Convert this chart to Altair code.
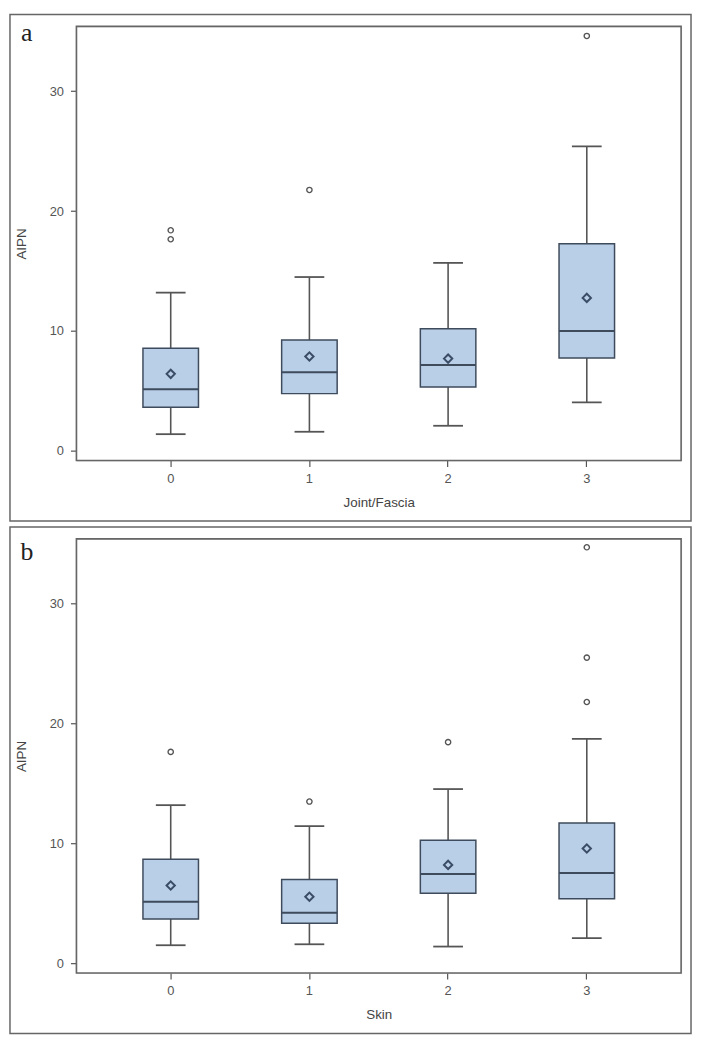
import altair as alt
import pandas as pd

# ---- data ----
cats = ["0", "1", "2", "3"]

a_lo = [1.4, 1.6, 2.1, 4.05]
a_q1 = [3.65, 4.78, 5.33, 7.76]
a_med = [5.14, 6.57, 7.16, 10.0]
a_q3 = [8.57, 9.25, 10.19, 17.27]
a_hi = [13.2, 14.5, 15.68, 25.4]
a_mean = [6.43, 7.87, 7.7, 12.76]
a_out_cat = ["0", "0", "1", "3"]
a_out_val = [18.4, 17.65, 21.76, 34.6]

b_lo = [1.52, 1.6, 1.41, 2.12]
b_q1 = [3.71, 3.36, 5.86, 5.4]
b_med = [5.15, 4.23, 7.46, 7.54]
b_q3 = [8.68, 7.0, 10.28, 11.72]
b_hi = [13.2, 11.45, 14.54, 18.73]
b_mean = [6.5, 5.56, 8.22, 9.58]
b_out_cat = ["0", "1", "2", "3", "3", "3"]
b_out_val = [17.64, 13.5, 18.45, 34.7, 25.5, 21.8]

y_ticks = [0, 10, 20, 30]

W = 610
H = 438
FONT = "Liberation Sans"
BOX_FILL = "#b9cee7"
BOX_STROKE = "#3e4b5c"
GREY = "#555555"


def panel(letter, letter_y, xtitle, lo, q1, med, q3, hi, mean, out_cat, out_val):
    stats = pd.DataFrame({"cat": cats, "lo": lo, "q1": q1, "med": med,
                          "q3": q3, "hi": hi, "mean": mean})
    outs = pd.DataFrame({"cat": out_cat, "val": out_val})
    one = pd.DataFrame({"k": [0]})

    xscale = alt.Scale(type="band", paddingInner=0, paddingOuter=0.18)
    xaxis = alt.Axis(title=xtitle, labelAngle=0, tickSize=6, labelPadding=6,
                     domain=False, grid=False, tickColor=GREY, tickWidth=1.2,
                     labelColor=GREY, labelFont=FONT, labelFontSize=13,
                     titleFont=FONT, titleFontSize=13.5, titleFontWeight="normal",
                     titleColor="#444444", titlePadding=10)
    yscale = alt.Scale(domain=[-0.8, 35.4], nice=False, zero=False)
    yaxis = alt.Axis(title="AIPN", values=y_ticks, tickSize=6, labelPadding=7,
                     domain=False, grid=False, tickColor=GREY, tickWidth=1.2,
                     labelColor=GREY, labelFont=FONT, labelFontSize=13,
                     titleFont=FONT, titleFontSize=13.5, titleFontWeight="normal",
                     titleColor="#444444", titlePadding=21)

    X = alt.X("cat:N", scale=xscale, axis=xaxis)

    def Y(f):
        return alt.Y(f + ":Q", scale=yscale, axis=yaxis)

    base = alt.Chart(stats)
    whisk = base.mark_rule(color=GREY, strokeWidth=1.6).encode(
        x=X, y=Y("lo"), y2="hi:Q")
    caps_lo = base.mark_tick(color=GREY, size=30, thickness=1.8, opacity=1).encode(
        x=X, y=Y("lo"))
    caps_hi = base.mark_tick(color=GREY, size=30, thickness=1.8, opacity=1).encode(
        x=X, y=Y("hi"))
    box = base.mark_bar(size=56, fill=BOX_FILL, stroke=BOX_STROKE,
                        strokeWidth=1.5).encode(x=X, y=Y("q1"), y2="q3:Q")
    median = base.mark_tick(color=BOX_STROKE, size=56, thickness=2, opacity=1).encode(
        x=X, y=Y("med"))
    meanpt = base.mark_point(shape="diamond", filled=False, size=70,
                             strokeWidth=2, color="#3b4d66", opacity=1).encode(
        x=X, y=Y("mean"))
    outpt = alt.Chart(outs).mark_point(shape="circle", filled=False, size=28,
                                       strokeWidth=1.4, color=GREY, opacity=1).encode(
        x=X, y=alt.Y("val:Q", scale=yscale, axis=yaxis))

    frame = alt.Chart(one).mark_rect(fillOpacity=0, stroke="#666666",
                                     strokeWidth=1.5).encode(
        x=alt.value(-67), x2=alt.value(W + 10),
        y=alt.value(-12), y2=alt.value(H + 61))
    plotframe = alt.Chart(one).mark_rect(fillOpacity=0, stroke="#666666",
                                         strokeWidth=1.6).encode(
        x=alt.value(0), x2=alt.value(W), y=alt.value(0), y2=alt.value(H))
    lab = alt.Chart(one).mark_text(font="Liberation Serif", fontSize=26,
                                   align="center", baseline="alphabetic",
                                   color="#222222").encode(
        x=alt.value(-50), y=alt.value(letter_y), text=alt.value(letter))

    return alt.layer(frame, plotframe, whisk, caps_lo, caps_hi, box, median,
                     meanpt, outpt, lab).properties(width=W, height=H)


pa = panel("a", 15, "Joint/Fascia", a_lo, a_q1, a_med, a_q3, a_hi, a_mean,
           a_out_cat, a_out_val)
pb = panel("b", 21, "Skin", b_lo, b_q1, b_med, b_q3, b_hi, b_mean,
           b_out_cat, b_out_val)

chart = alt.vconcat(pa, pb, spacing=2).properties(padding=0).configure_view(
    strokeWidth=0).configure(background="white")

chart.save("out.html", embed_options={"renderer": "svg", "actions": False})
